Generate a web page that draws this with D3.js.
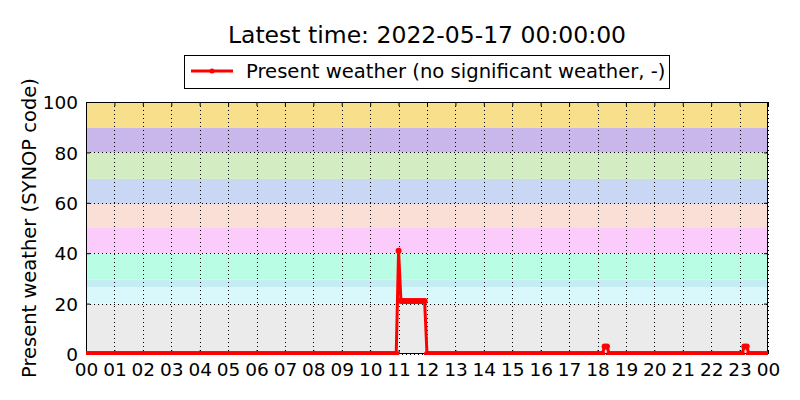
<!DOCTYPE html>
<html>
<head>
<meta charset="utf-8">
<script src="https://cdn.jsdelivr.net/npm/d3@7"></script>
<style>
  body { margin: 0; background: #fff; }
  svg { font-family: 'DejaVu Sans', sans-serif; }
</style>
</head>
<body>
<div id="main"></div>
<script>
// 5-minute observations, one row per hour, from 2022-05-16 00:00 to 2022-05-17 00:00
const startTime = new Date(2022, 4, 16, 0, 0, 0);
const endTime = new Date(2022, 4, 17, 0, 0, 0);
const stepMinutes = 5;
const presentWeather = [
  0, 0, 0, 0, 0, 0, 0, 0, 0, 0, 0, 0,   // 00
  0, 0, 0, 0, 0, 0, 0, 0, 0, 0, 0, 0,   // 01
  0, 0, 0, 0, 0, 0, 0, 0, 0, 0, 0, 0,   // 02
  0, 0, 0, 0, 0, 0, 0, 0, 0, 0, 0, 0,   // 03
  0, 0, 0, 0, 0, 0, 0, 0, 0, 0, 0, 0,   // 04
  0, 0, 0, 0, 0, 0, 0, 0, 0, 0, 0, 0,   // 05
  0, 0, 0, 0, 0, 0, 0, 0, 0, 0, 0, 0,   // 06
  0, 0, 0, 0, 0, 0, 0, 0, 0, 0, 0, 0,   // 07
  0, 0, 0, 0, 0, 0, 0, 0, 0, 0, 0, 0,   // 08
  0, 0, 0, 0, 0, 0, 0, 0, 0, 0, 0, 0,   // 09
  0, 0, 0, 0, 0, 0, 0, 0, 0, 0, 0, 0,   // 10
  41, 21, 21, 21, 21, 21, 21, 21, 21, 21, 21, 21,   // 11
  0, 0, 0, 0, 0, 0, 0, 0, 0, 0, 0, 0,   // 12
  0, 0, 0, 0, 0, 0, 0, 0, 0, 0, 0, 0,   // 13
  0, 0, 0, 0, 0, 0, 0, 0, 0, 0, 0, 0,   // 14
  0, 0, 0, 0, 0, 0, 0, 0, 0, 0, 0, 0,   // 15
  0, 0, 0, 0, 0, 0, 0, 0, 0, 0, 0, 0,   // 16
  0, 0, 0, 0, 0, 0, 0, 0, 0, 0, 0, 0,   // 17
  0, 0, 0, 3, 3, 0, 0, 0, 0, 0, 0, 0,   // 18
  0, 0, 0, 0, 0, 0, 0, 0, 0, 0, 0, 0,   // 19
  0, 0, 0, 0, 0, 0, 0, 0, 0, 0, 0, 0,   // 20
  0, 0, 0, 0, 0, 0, 0, 0, 0, 0, 0, 0,   // 21
  0, 0, 0, 0, 0, 0, 0, 0, 0, 0, 0, 0,   // 22
  0, 0, 3, 3, 0, 0, 0, 0, 0, 0, 0, 0,   // 23
  0                                     // 00 next day
];

// SYNOP code bands behind the data
const bandFrom = [0, 20, 26.5, 29.5, 40, 50, 59.5, 69.5, 80, 89.7];
const bandTo = [20, 26.5, 29.5, 40, 50, 59.5, 69.5, 80, 89.7, 100];
const bandColors = ['#ebebeb', '#d9f8fc', '#c6ecf3', '#b9fde4', '#fbcbfb',
                    '#f9dfd6', '#c9d7f5', '#d3ecc1', '#c9b7ec', '#f8df8b'];

const yTicks = [0, 20, 40, 60, 80, 100];
const titleText = 'Latest time: 2022-05-17 00:00:00';
const legendText = 'Present weather (no significant weather, -)';
const yLabel = 'Present weather (SYNOP code)';

const w = 800;
const h = 400;
const m = { left: 86, right: 32, top: 102, bottom: 46 };

const data = presentWeather.map((v, i) => ({
    t: new Date(startTime.getTime() + i * stepMinutes * 60000),
    v: v
}));

const svg = d3.select('#main')
    .append('svg')
    .attr('width', w)
    .attr('height', h)

const x = d3.scaleTime()
    .domain([startTime, endTime])
    .range([m.left, w - m.right])

const y = d3.scaleLinear()
    .domain([0, 100])
    .range([h - m.bottom, m.top])

svg.append('defs')
    .append('clipPath')
    .attr('id', 'plotClip')
    .append('rect')
    .attr('x', m.left)
    .attr('y', m.top)
    .attr('width', w - m.left - m.right)
    .attr('height', h - m.top - m.bottom + 1)

// bands
svg.append('g')
    .selectAll('rect')
    .data(bandFrom)
    .enter()
    .append('rect')
    .attr('x', m.left)
    .attr('width', w - m.left - m.right)
    .attr('y', (d, i) => y(bandTo[i]))
    .attr('height', (d, i) => y(d) - y(bandTo[i]))
    .attr('fill', (d, i) => bandColors[i])

// grid
const hours = d3.timeHour.range(startTime, d3.timeMinute.offset(endTime, 1));

const grid = svg.append('g')
    .attr('stroke', '#000')
    .attr('stroke-width', 1)
    .attr('stroke-dasharray', '1,3')

grid.selectAll('.vgrid')
    .data(hours)
    .enter()
    .append('line')
    .attr('class', 'vgrid')
    .attr('x1', d => Math.round(x(d)) + 0.5)
    .attr('x2', d => Math.round(x(d)) + 0.5)
    .attr('y1', m.top)
    .attr('y2', h - m.bottom)

grid.selectAll('.hgrid')
    .data(yTicks)
    .enter()
    .append('line')
    .attr('class', 'hgrid')
    .attr('x1', m.left)
    .attr('x2', w - m.right)
    .attr('y1', d => Math.round(y(d)) + 0.5)
    .attr('y2', d => Math.round(y(d)) + 0.5)

// axes, classic inward ticks
const xAxis = d3.axisBottom(x)
    .tickValues(hours)
    .tickFormat(d3.timeFormat('%H'))
    .tickSizeInner(-4)
    .tickSizeOuter(0)
    .tickPadding(9)

const gx = svg.append('g')
    .attr('transform', `translate(0, ${h - m.bottom})`)
    .call(xAxis)

const gxTop = svg.append('g')
    .attr('transform', `translate(0, ${m.top})`)
    .call(d3.axisTop(x).tickValues(hours).tickFormat('').tickSizeInner(-4).tickSizeOuter(0))

const yAxis = d3.axisLeft(y)
    .tickValues(yTicks)
    .tickSizeInner(-4)
    .tickSizeOuter(0)
    .tickPadding(8)

const gy = svg.append('g')
    .attr('transform', `translate(${m.left}, 0)`)
    .call(yAxis)

const gyRight = svg.append('g')
    .attr('transform', `translate(${w - m.right}, 0)`)
    .call(d3.axisRight(y).tickValues(yTicks).tickFormat('').tickSizeInner(-4).tickSizeOuter(0))

for (const g of [gx, gxTop, gy, gyRight]) {
    g.select('.domain').remove()
    g.selectAll('text')
        .style('font-size', '18.5px')
        .style('font-family', 'DejaVu Sans')
        .attr('fill', '#000')
}
gy.selectAll('text').attr('dy', '0.36em')

svg.append('rect')
    .attr('x', m.left + 0.5)
    .attr('y', m.top + 0.5)
    .attr('width', w - m.left - m.right - 1)
    .attr('height', h - m.top - m.bottom - 1)
    .attr('fill', 'none')
    .attr('stroke', '#000')
    .attr('stroke-width', 1)

// series
const line = d3.line()
    .x(d => x(d.t))
    .y(d => y(d.v))

const series = svg.append('g')
    .attr('clip-path', 'url(#plotClip)')

series.append('path')
    .datum(data)
    .attr('d', line)
    .attr('fill', 'none')
    .attr('stroke', '#ff0000')
    .attr('stroke-width', 3)
    .attr('stroke-linejoin', 'miter')

series.selectAll('circle')
    .data(data)
    .enter()
    .append('circle')
    .attr('cx', d => x(d.t))
    .attr('cy', d => y(d.v))
    .attr('r', 3)
    .attr('fill', '#ff0000')

// title
svg.append('text')
    .attr('x', (m.left + w - m.right) / 2)
    .attr('y', 43)
    .attr('text-anchor', 'middle')
    .style('font-size', '23.5px')
    .text(titleText)

// y label
svg.append('text')
    .attr('transform', `translate(36, ${(m.top + h - m.bottom) / 2}) rotate(-90)`)
    .attr('text-anchor', 'middle')
    .style('font-size', '19.5px')
    .text(yLabel)

// legend
const legend = svg.append('g')

legend.append('rect')
    .attr('x', 184.5)
    .attr('y', 55.5)
    .attr('width', 485)
    .attr('height', 33)
    .attr('fill', '#fff')
    .attr('stroke', '#000')

legend.append('line')
    .attr('x1', 191)
    .attr('x2', 233)
    .attr('y1', 71)
    .attr('y2', 71)
    .attr('stroke', '#ff0000')
    .attr('stroke-width', 3)

legend.append('circle')
    .attr('cx', 212)
    .attr('cy', 71)
    .attr('r', 2.5)
    .attr('fill', '#ff0000')

legend.append('text')
    .attr('x', 246)
    .attr('y', 78)
    .style('font-size', '19.6px')
    .text(legendText)
</script>
</body>
</html>
